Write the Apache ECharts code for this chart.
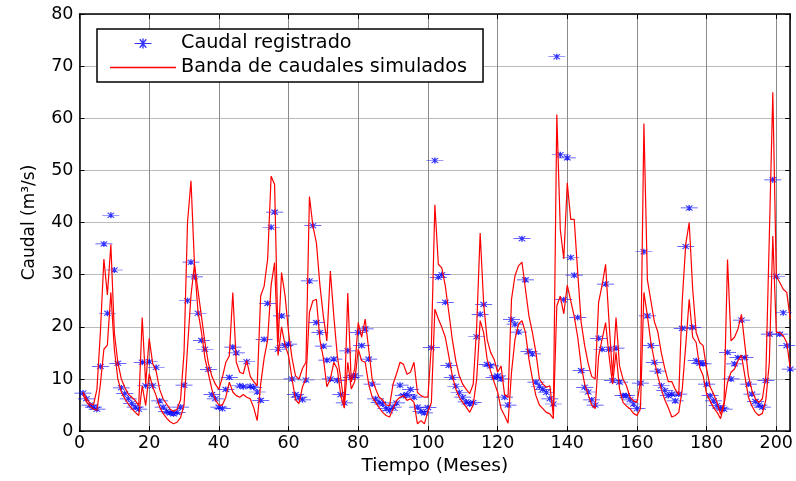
<!DOCTYPE html>
<html>
<head>
<meta charset="utf-8">
<script src="https://cdn.jsdelivr.net/npm/echarts@6/dist/echarts.min.js"></script>
<style>
html, body { margin: 0; padding: 0; background: #fff; }
#chart { width: 796px; height: 481px; }
</style>
</head>
<body>
<div id="chart"></div>
<script>
// caudal registrado, meses 1..204 (m3/s)
var registrado = [
  7.3, 6.2, 5.0, 4.6, 4.2, 12.4, 35.9, 22.6, 41.4, 30.9,
  13.0, 8.3, 7.2, 6.2, 5.3, 4.6, 4.2, 13.2, 8.7, 13.3,
  8.7, 12.2, 5.8, 4.6, 3.8, 3.5, 3.3, 3.6, 4.6, 8.8,
  25.0, 32.4, 29.6, 22.6, 17.4, 15.7, 11.8, 7.0, 6.2, 4.6,
  4.3, 8.0, 10.3, 16.1, 15.0, 8.7, 8.5, 13.3, 8.6, 8.4,
  7.5, 5.9, 17.6, 24.5, 39.1, 42.0, 15.7, 22.1, 16.4, 16.7,
  10.0, 7.0, 6.5, 6.0, 9.8, 28.8, 39.4, 20.8, 18.9, 16.3,
  13.6, 10.0, 13.8, 9.7, 7.0, 5.4, 15.4, 10.3, 10.6, 18.9,
  16.4, 19.6, 13.8, 9.0, 6.2, 5.5, 5.2, 4.3, 3.9, 4.6,
  5.4, 8.8, 6.8, 7.0, 8.0, 6.5, 4.6, 3.8, 3.5, 4.5,
  16.0, 51.9, 29.5, 30.0, 24.7, 12.6, 10.3, 8.6, 7.4, 6.5,
  5.6, 5.2, 5.5, 18.1, 22.4, 24.3, 12.8, 12.5, 10.3, 10.6,
  10.0, 6.5, 5.0, 21.4, 20.5, 19.0, 36.9, 29.0, 15.3, 14.8,
  9.4, 8.6, 8.0, 7.4, 6.2, 5.2, 71.8, 53.0, 25.2, 52.4,
  33.3, 29.9, 21.8, 11.6, 8.4, 7.5, 6.0, 5.0, 17.8, 15.7,
  28.2, 15.7, 9.7, 15.9, 9.4, 6.8, 6.8, 6.0, 5.2, 4.3,
  9.2, 34.4, 22.1, 16.4, 13.2, 11.5, 8.7, 7.8, 6.8, 7.1,
  5.8, 7.1, 19.7, 35.4, 42.8, 19.9, 13.5, 13.0, 12.9, 9.0,
  6.8, 5.8, 4.9, 4.4, 4.2, 15.1, 10.0, 12.9, 14.1, 21.3,
  14.1, 9.0, 7.1, 5.7, 5.0, 4.6, 9.7, 18.6, 48.2, 29.7,
  18.6, 22.7, 16.4, 11.9
];

// limite superior de la banda simulada
var bandaSup = [
  7.5, 6.2, 5.3, 5.0, 8.0, 19.0, 33.0, 26.1, 35.8, 18.9,
  13.2, 10.0, 8.4, 7.1, 6.5, 5.9, 4.9, 21.8, 9.0, 17.8,
  13.0, 11.5, 8.0, 6.2, 5.2, 4.2, 3.8, 4.2, 6.0, 15.0,
  40.0, 48.0, 32.0, 27.0, 22.0, 17.0, 13.0, 10.5, 9.0, 8.0,
  10.3, 13.2, 14.4, 26.6, 13.2, 11.3, 11.0, 13.5, 10.5, 9.5,
  8.7, 25.9, 27.8, 33.0, 48.9, 47.3, 17.0, 30.4, 26.0, 19.0,
  14.0, 10.6, 10.0, 12.0, 13.2, 45.0, 39.3, 36.1, 28.0, 22.0,
  17.3, 30.7, 22.0, 14.4, 10.0, 5.0, 26.5, 9.4, 12.0, 20.8,
  18.0, 21.5, 15.7, 10.0, 8.1, 6.5, 6.0, 5.0, 4.9, 9.0,
  11.0, 13.2, 12.8, 10.9, 11.3, 13.2, 7.4, 6.8, 6.5, 6.5,
  16.5, 43.4, 32.0, 31.3, 27.8, 22.8, 17.6, 13.5, 10.6, 9.0,
  8.0, 7.2, 9.0, 20.0, 38.0, 24.5, 17.6, 15.1, 13.8, 11.3,
  12.5, 7.0, 6.5, 25.3, 29.8, 31.7, 32.4, 27.2, 22.1, 18.9,
  15.1, 10.0, 9.0, 8.4, 8.7, 3.0, 60.7, 38.7, 33.0, 47.6,
  40.6, 40.6, 30.4, 20.8, 16.4, 13.0, 10.5, 10.0, 24.7, 28.0,
  32.0, 20.8, 10.6, 21.8, 12.5, 10.0, 8.7, 6.5, 5.8, 5.5,
  9.4, 59.0, 29.0, 25.0, 21.0, 19.0, 15.0, 12.0, 9.5, 9.5,
  8.0, 7.0, 25.0, 35.8, 40.0, 27.2, 18.9, 17.0, 16.4, 11.9,
  8.5, 7.1, 5.5, 3.2, 5.5, 32.9, 17.3, 18.0, 19.6, 22.4,
  16.4, 10.6, 7.8, 6.2, 5.5, 6.2, 10.6, 37.4, 65.0, 29.7,
  28.5, 27.2, 26.6, 21.5
];

// limite inferior de la banda simulada
var bandaInf = [
  7.0, 5.6, 4.8, 4.2, 4.0, 9.0, 15.7, 16.5, 26.6, 15.7,
  10.0, 7.5, 6.2, 5.2, 4.3, 3.6, 3.0, 8.7, 4.9, 11.0,
  8.5, 6.8, 4.6, 3.4, 2.5, 1.8, 1.4, 1.7, 2.6, 5.0,
  16.0, 26.0, 32.0, 23.0, 19.0, 14.0, 11.0, 8.0, 6.0, 5.0,
  5.0, 6.5, 9.4, 7.5, 6.8, 6.5, 7.0, 6.5, 6.2, 4.5,
  2.0, 9.0, 14.0, 17.5, 28.0, 32.3, 14.5, 20.0, 16.5, 14.5,
  10.0, 6.0, 5.3, 8.5, 10.0, 22.8, 25.0, 25.3, 17.5, 14.0,
  8.5, 10.0, 13.2, 11.9, 6.8, 4.4, 13.2, 8.1, 9.5, 15.7,
  13.5, 13.2, 9.0, 6.5, 5.5, 4.5, 3.6, 3.0, 2.7, 4.3,
  5.9, 6.5, 6.8, 5.9, 6.2, 5.5, 1.4, 2.0, 1.4, 3.8,
  5.5, 23.4, 21.5, 19.9, 18.0, 14.4, 10.6, 8.1, 6.5, 5.5,
  4.6, 3.6, 5.0, 10.0, 21.2, 18.9, 13.8, 11.5, 9.4, 7.5,
  4.3, 3.0, 1.5, 11.3, 17.6, 20.5, 21.2, 18.9, 13.8, 10.0,
  6.8, 5.0, 4.3, 3.6, 3.3, 2.4, 24.0, 25.9, 22.5, 28.0,
  25.0, 22.0, 18.0, 12.5, 9.0, 7.0, 5.0, 4.3, 14.4, 17.6,
  20.8, 14.4, 9.0, 15.1, 8.1, 5.5, 4.8, 4.3, 3.4, 3.0,
  4.3, 26.6, 22.1, 17.0, 13.5, 10.5, 8.0, 6.0, 4.5, 2.7,
  3.0, 3.6, 8.0, 16.4, 25.3, 18.0, 17.0, 12.2, 10.6, 7.1,
  5.8, 4.5, 3.6, 2.4, 5.0, 9.4, 11.3, 11.9, 13.5, 14.6,
  10.5, 6.5, 4.8, 3.6, 3.0, 3.4, 6.0, 13.2, 37.4, 19.0,
  18.9, 18.3, 17.0, 12.0
];

var meses = registrado.map(function (v, i) { return i + 1; });
var ticksX = [0, 20, 40, 60, 80, 100, 120, 140, 160, 180, 200];
var ticksY = [0, 10, 20, 30, 40, 50, 60, 70, 80];

function pares(valores) {
    return valores.map(function (v, i) { return [meses[i], v]; });
}

var fuente = 'DejaVu Sans';
// asterisco relleno: raya horizontal larga, vertical y dos diagonales
var asterisco = 'path://M0,8.8 L34,8.8 L34,11.2 L0,11.2 Z' +
    ' M15.6,0 L18.4,0 L18.4,20 L15.6,20 Z' +
    ' M9.5,2.5 L11.5,0.5 L24.5,17.5 L22.5,19.5 Z' +
    ' M22.5,0.5 L24.5,2.5 L11.5,19.5 L9.5,17.5 Z';
var rayaRoja = 'path://M0,0 L66,0 L66,1.3 L0,1.3 Z';

var myChart = echarts.init(document.getElementById('chart'));

var ejeX = {
    type: 'value',
    min: ticksX[0],
    max: 204,
    interval: ticksX[1] - ticksX[0],
    axisLine: { show: true, onZero: false, lineStyle: { color: '#000', width: 1.5 } },
    axisTick: { show: true, inside: true, length: 5, lineStyle: { color: '#000' } },
    splitLine: { show: false }
};

var ejeY = {
    type: 'value',
    min: ticksY[0],
    max: ticksY[ticksY.length - 1],
    interval: ticksY[1] - ticksY[0],
    axisLine: { show: true, onZero: false, lineStyle: { color: '#000', width: 1.5 } },
    axisTick: { show: true, inside: true, length: 5, lineStyle: { color: '#000' } },
    splitLine: { show: false }
};

var option = {
    backgroundColor: '#fff',
    animation: false,
    textStyle: { fontFamily: fuente },
    grid: { left: 79.5, top: 14, right: 0.2, bottom: 48.7 },
    legend: {
        data: [
            { name: 'Caudal registrado' },
            { name: 'Banda de caudales simulados', icon: rayaRoja }
        ],
        orient: 'vertical',
        left: 97,
        top: 29,
        padding: [5, 16, 5, 13],
        itemGap: 5,
        itemWidth: 66,
        itemHeight: 10,
        symbolKeepAspect: true,
        backgroundColor: '#fff',
        borderColor: '#000',
        borderWidth: 1.5,
        borderRadius: 0,
        textStyle: { fontSize: 19.2, color: '#000', fontFamily: fuente }
    },
    xAxis: [
        Object.assign({}, ejeX, {
            position: 'bottom',
            name: 'Tiempo (Meses)',
            nameLocation: 'middle',
            nameGap: 25,
            nameTextStyle: { fontSize: 18.5, color: '#000', fontFamily: fuente },
            axisLabel: {
                show: true, showMaxLabel: false, margin: 3,
                fontSize: 17.5, color: '#000', fontFamily: fuente
            },
            splitLine: { show: true, lineStyle: { color: '#8a8a8a', width: 1, type: 'solid' } }
        }),
        Object.assign({}, ejeX, { position: 'top', axisLabel: { show: false } })
    ],
    yAxis: [
        Object.assign({}, ejeY, {
            position: 'left',
            name: 'Caudal (m³/s)',
            nameLocation: 'middle',
            nameGap: 41,
            nameTextStyle: { fontSize: 17, color: '#000', fontFamily: fuente },
            axisLabel: { show: true, margin: 6, fontSize: 17.5, color: '#000', fontFamily: fuente },
            splitLine: { show: true, lineStyle: { color: '#777', width: 1, type: [1, 1] } }
        }),
        Object.assign({}, ejeY, { position: 'right', axisLabel: { show: false } })
    ],
    series: [
        {
            name: 'Caudal registrado',
            type: 'scatter',
            data: pares(registrado),
            symbol: asterisco,
            symbolSize: [17, 10],
            symbolKeepAspect: true,
            itemStyle: { color: '#0000ff' },
            z: 2
        },
        {
            name: 'Banda de caudales simulados',
            type: 'line',
            data: pares(bandaSup),
            symbol: 'none',
            lineStyle: { color: '#ff0000', width: 1.2 },
            itemStyle: { color: '#ff0000' },
            z: 3
        },
        {
            name: 'Banda de caudales simulados',
            type: 'line',
            data: pares(bandaInf),
            symbol: 'none',
            lineStyle: { color: '#ff0000', width: 1.2 },
            itemStyle: { color: '#ff0000' },
            z: 3
        }
    ]
};

myChart.setOption(option);
</script>
</body>
</html>
